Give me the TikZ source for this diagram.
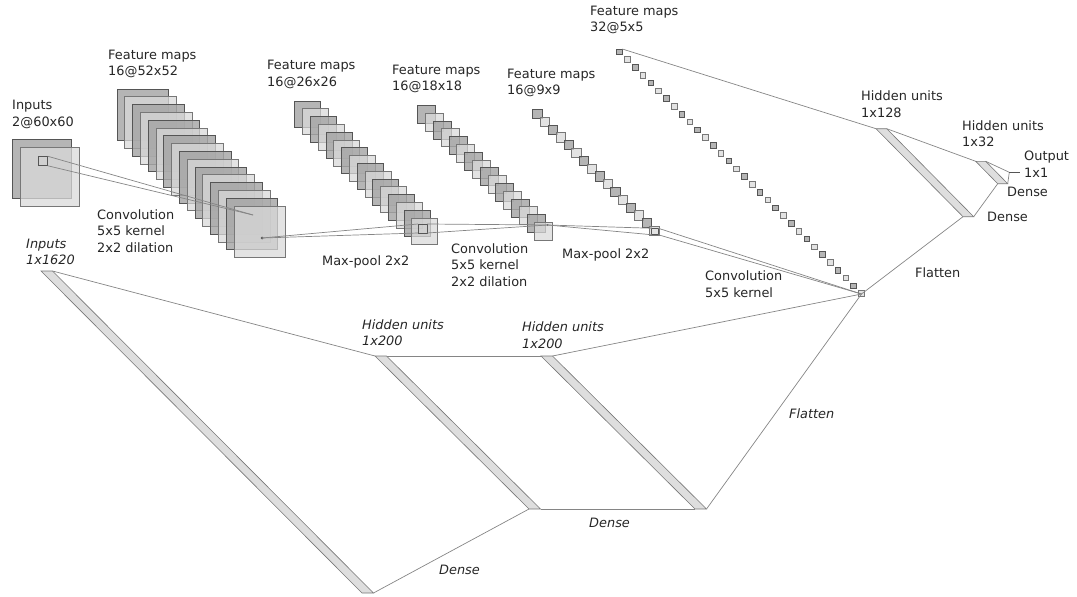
\documentclass[tikz,border=0pt]{standalone}
\usepackage{fontspec}
\setmainfont{DejaVu Sans}
\usetikzlibrary{positioning,calc}
\definecolor{edge}{HTML}{555555}
\definecolor{wire}{HTML}{858585}
\tikzset{
  darkmap/.style={draw=edge,line width=0.8pt,fill=black!36,fill opacity=0.8,inner sep=0pt,outer sep=0pt,anchor=north west},
  lightmap/.style={draw=edge!80,line width=0.8pt,fill=black!15,fill opacity=0.75,inner sep=0pt,outer sep=0pt,anchor=north west},
  kernel/.style={draw=edge,line width=0.8pt,inner sep=0pt,outer sep=0pt},
  wired/.style={draw=wire,line width=0.7pt},
  unitbar/.style={draw=edge!80,line width=0.6pt,fill=black!13},
  caption/.style={anchor=west,align=left,inner sep=0pt,text=black!85,font=\fontsize{12.9}{16.5}\selectfont},
  slanted/.style={caption,font=\fontsize{12.9}{16.5}\selectfont\itshape}
}
\newcommand{\mapstack}[5]{%
  \foreach \i in {0,...,#5}{
    \pgfmathtruncatemacro{\px}{mod(\i,2)}
    \ifnum\px=0 \def\maptype{darkmap}\else \def\maptype{lightmap}\fi
    \node[\maptype,minimum size=#4] (#1-\i) at ({#2+7.8*\i},{#3+7.8*\i}) {};
  }}
\newcommand{\unitbox}[6]{%
  \coordinate (#1-tl) at (#2,#3);
  \coordinate (#1-tr) at (#2+#6,#3);
  \coordinate (#1-br) at (#4+#6,#5);
  \coordinate (#1-bl) at (#4,#5);
  \draw[unitbar] (#1-tl) -- (#1-tr) -- (#1-br) -- (#1-bl) -- cycle;}
\begin{document}
\begin{tikzpicture}[x=1pt,y=-1pt]
  \useasboundingbox (0,0) rectangle (1077,597);
  \node[darkmap,minimum size=59pt] (in-0) at (12,139.5) {};
  \node[lightmap,minimum size=59pt] (in-1) at (20,147.5) {};
  \mapstack{fa}{117}{89}{51.5pt}{15}
  \mapstack{fb}{294.7}{101}{26pt}{15}
  \mapstack{fc}{417.7}{105.3}{18pt}{15}
  \mapstack{fd}{532.7}{109.3}{9.3pt}{15}
  \mapstack{fe}{616.7}{49}{5.6pt}{31}

  \node[kernel,minimum size=9.5pt] (ka) at (43,161) {};
  \node[kernel,minimum size=9pt] (kb) at (422.5,228.5) {};
  \node[kernel,minimum size=6.5pt] (kc) at (655,231.5) {};
  \coordinate (pa) at (253,215);
  \coordinate (pb) at (262,238);
  \coordinate (pc) at (547.5,225);
  \coordinate (pd) at (861.5,294);
  \fill[edge] (pb) circle (1.5);
  \fill[edge] (pc) circle (1);

  \draw[wired] (ka.north east) -- (pa);
  \draw[wired] (ka.south east) -- (pa);
  \draw[wired] (pb) -- (kb.north west);
  \draw[wired] (pb) -- (kb.south west);
  \draw[wired] (kb.north east) -- (pc);
  \draw[wired] (kb.south east) -- (pc);
  \draw[wired] (pc) -- (kc.north west);
  \draw[wired] (pc) -- (kc.south west);
  \draw[wired] (kc.north east) -- (pd);
  \draw[wired] (kc.south east) -- (pd);

  \unitbox{ha}{876}{128.7}{963}{216.7}{10.7}
  \unitbox{hb}{975.7}{161.3}{997.7}{183.7}{10}
  \unitbox{ia}{41}{271}{362}{593}{11.5}
  \unitbox{ib}{375}{356}{529}{509}{11.5}
  \unitbox{ic}{541}{356}{695}{509}{11.5}
  \coordinate (ou) at (1009.3,172.3);
  \coordinate (ov) at (1020,172.3);

  \draw[wired] (fe-0.north east) -- (ha-tl);
  \draw[wired] (ha-tr) -- (hb-tl);
  \draw[wired] (hb-tr) -- (ou);
  \draw[wired] (hb-br) -- (ou);
  \draw[edge,line width=0.8pt] (ou) -- (ov);
  \draw[wired] (hb-bl) -- (ha-br);
  \draw[wired] (ha-bl) -- (pd);
  \draw[wired] (ia-tr) -- (ib-tl);
  \draw[wired] (ib-tr) -- (ic-tl);
  \draw[wired] (ic-tr) -- (pd);
  \draw[wired] (ic-br) -- (pd);
  \draw[wired] (ib-br) -- (ic-bl);
  \draw[wired] (ib-bl) -- (ia-br);

  \node[caption] (lin) at (12,114.5) {Inputs\\2@60x60};
  \node[caption] (lfa) at (108,64) {Feature maps\\16@52x52};
  \node[caption] (lfb) at (267,74.5) {Feature maps\\16@26x26};
  \node[caption] (lfc) at (392,79) {Feature maps\\16@18x18};
  \node[caption] (lfd) at (507,83) {Feature maps\\16@9x9};
  \node[caption] (lfe) at (590,20) {Feature maps\\32@5x5};
  \node[caption] (lha) at (861,104) {Hidden units\\1x128};
  \node[caption] (lhb) at (962,133.5) {Hidden units\\1x32};
  \node[caption] (lou) at (1024,164) {Output\\1x1};
  \node[caption] (lda) at (1007,192) {Dense};
  \node[caption] (ldb) at (987,217) {Dense};
  \node[caption] (lfl) at (915,273) {Flatten};
  \node[caption] (lca) at (97,231) {Convolution\\5x5 kernel\\2x2 dilation};
  \node[caption] (lma) at (322,262) {Max-pool 2x2};
  \node[caption] (lcb) at (451,265) {Convolution\\5x5 kernel\\2x2 dilation};
  \node[caption] (lmb) at (562,255) {Max-pool 2x2};
  \node[caption] (lcc) at (705,284) {Convolution\\5x5 kernel};
  \node[slanted] (lia) at (26,252) {Inputs\\1x1620};
  \node[slanted] (lib) at (362,332.5) {Hidden units\\1x200};
  \node[slanted] (lic) at (522,335) {Hidden units\\1x200};
  \node[slanted] (lif) at (789,414) {Flatten};
  \node[slanted] (lid) at (589,523) {Dense};
  \node[slanted] (lie) at (439,570) {Dense};
\end{tikzpicture}
\end{document}
